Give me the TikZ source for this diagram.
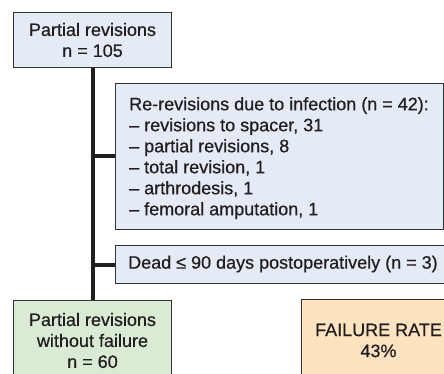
\documentclass[tikz,border=0pt]{standalone}
\usepackage{fontspec}
\setmainfont{Liberation Sans}[FakeBold=0.7]
\definecolor{boxblue}{HTML}{E5EBF6}
\definecolor{boxgreen}{HTML}{DAEBD5}
\definecolor{boxorange}{HTML}{FDE3BF}
\definecolor{edge}{HTML}{333333}
\definecolor{ink}{HTML}{231F20}
\tikzset{
  box/.style={draw=edge, line width=1pt, fill=boxblue, inner sep=0pt, align=center, text=ink,
    font=\fontsize{18}{21}\selectfont},
  txt/.style={inner sep=0pt, align=left, text=ink, font=\fontsize{18}{21}\selectfont},
  conn/.style={draw=ink, line width=4pt, line cap=butt}
}
\begin{document}
\begin{tikzpicture}[x=1pt, y=-1pt]
\useasboundingbox (0,0) rectangle (444,374);
\clip (0,0) rectangle (444,374);
\fill[white] (0,0) rectangle (444,374);
\node[box, anchor=north west, minimum width=158pt, minimum height=55pt] (top) at (13,12)
  {Partial revisions\\n = 105};
\node[box, anchor=north west, minimum width=328pt, minimum height=146pt] (rerev) at (115,83) {};
\node[txt, anchor=north west] (rerevtxt) at (129,97)
  {Re-revisions due to infection (n = 42):\\
   -- revisions to spacer, 31\\
   -- partial revisions, 8\\
   -- total revision, 1\\
   -- arthrodesis, 1\\
   -- femoral amputation, 1};
\node[box, anchor=north west, minimum width=360pt, minimum height=38pt] (dead) at (115,245) {};
\node[txt, anchor=west] (deadtxt) at (128,264) {Dead ≤ 90 days postoperatively (n = 3)};
\node[box, fill=boxgreen, anchor=north west, minimum width=158pt, minimum height=80pt] (green) at (13,300)
  {Partial revisions\\without failure\\n = 60};
\node[box, fill=boxorange, anchor=north west, minimum width=154pt, minimum height=82pt] (fail) at (301,299)
  {FAILURE RATE\\43\%};
\draw[conn] (top.south) -- (green.north);
\draw[conn] (top.south |- rerev.west) -- (rerev.west);
\draw[conn] (top.south |- dead.west) -- (dead.west);
\end{tikzpicture}
\end{document}
